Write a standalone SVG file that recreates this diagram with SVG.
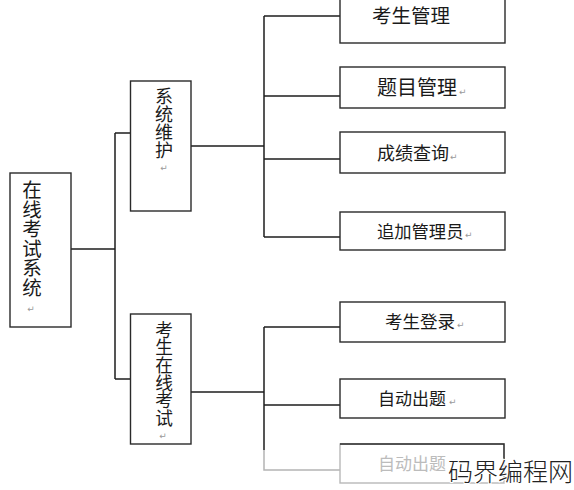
<svg xmlns="http://www.w3.org/2000/svg" width="574" height="490" viewBox="0 0 574 490">
<style>
.box{fill:#fff;stroke:#2a2a2a;stroke-width:1.4}
.ln{fill:none;stroke:#1e1e1e;stroke-width:1.5}
.fd{fill:none;stroke:#b4b4b4;stroke-width:1.5}
.t{font-family:"Noto Sans CJK SC","Liberation Sans",sans-serif;fill:#1a1a1a}
.v{writing-mode:vertical-rl;text-orientation:upright}
.rm{font-family:"DejaVu Sans",sans-serif;fill:#9a9a9a;font-size:9px}
</style>
<rect width="574" height="490" fill="#fff"/>
<g id="connectors">
<path class="ln" d="M71,249 H115 M115,133 V379 M115,133 H130 M115,379 H130"/>
<path class="ln" d="M191,146 H264 M264,16 V237 M264,16 H340 M264,96 H340 M264,159 H340 M264,237 H340"/>
<path class="ln" d="M191,392 H264 M264,327 V450 M264,327 H340 M264,405 H340"/>
<path class="fd" d="M264,450 V470 H340"/>
</g>
<g id="root">
<rect class="box" x="10" y="173" width="61" height="154"/>
<text class="t v" font-size="19.5" x="32" y="180">在线考试系统</text>
<text class="rm" x="31" y="312" text-anchor="middle">↵</text>
</g>
<g id="sys">
<rect class="box" x="130.5" y="81" width="60.5" height="130"/>
<text class="t v" font-size="18" x="164" y="87">系统维护</text>
<text class="rm" x="164" y="171" text-anchor="middle">↵</text>
</g>
<g id="exam">
<rect class="box" x="130.5" y="314" width="60.5" height="130"/>
<text class="t v" font-size="17.7" x="164" y="321">考生在线考试</text>
<text class="rm" x="163" y="439" text-anchor="middle">↵</text>
</g>
<g id="n1">
<rect class="box" x="340" y="-2" width="165" height="45"/>
<text class="t" font-size="19.5" x="372" y="23">考生管理</text>
</g>
<g id="n2">
<rect class="box" x="340" y="67" width="165" height="41"/>
<text class="t" font-size="20" x="377" y="95">题目管理</text>
<text class="rm" x="459" y="95">↵</text>
</g>
<g id="n3">
<rect class="box" x="340" y="132" width="165" height="41"/>
<text class="t" font-size="18" x="377" y="160">成绩查询</text>
<text class="rm" x="450" y="160">↵</text>
</g>
<g id="n4">
<rect class="box" x="340" y="212" width="165" height="38"/>
<text class="t" font-size="17.3" x="377" y="238">追加管理员</text>
<text class="rm" x="465" y="238">↵</text>
</g>
<g id="n5">
<rect class="box" x="340" y="302" width="165" height="40"/>
<text class="t" font-size="17.5" x="385" y="328">考生登录</text>
<text class="rm" x="457" y="328">↵</text>
</g>
<g id="n6">
<rect class="box" x="340" y="379" width="165" height="39"/>
<text class="t" font-size="17" x="378" y="405">自动出题</text>
<text class="rm" x="449" y="405">↵</text>
</g>
<g id="n7">
<rect x="340" y="444" width="164" height="39" fill="#fff" stroke="#b8b8b8" stroke-width="1.4"/>
<path d="M340,444 H504 V460" fill="none" stroke="#2a2a2a" stroke-width="1.4"/>
<text class="t" font-size="17" x="378" y="470" style="fill:#bcbcbc">自动出题</text>
</g>
<text font-family="Noto Sans CJK SC,sans-serif" font-weight="300" font-size="25" x="448" y="481" fill="#222" stroke="#fff" stroke-width="2" paint-order="stroke">码界编程网</text>
</svg>
